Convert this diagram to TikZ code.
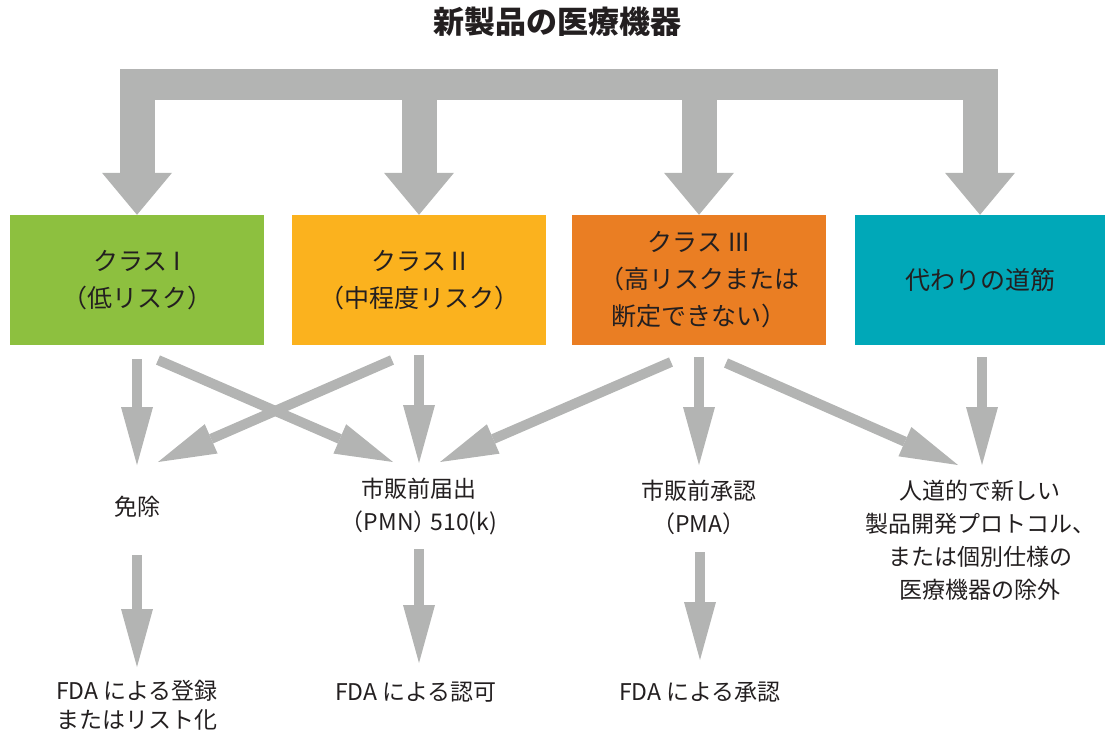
\documentclass[tikz,border=0pt]{standalone}
\usepackage{fontspec}
\setmainfont{Noto Sans CJK JP}
\usetikzlibrary{arrows.meta,calc}
\definecolor{arrowgray}{HTML}{B3B4B3}
\definecolor{cgreen}{HTML}{8DC03F}
\definecolor{corange}{HTML}{FBB21E}
\definecolor{cred}{HTML}{EA7E23}
\definecolor{cteal}{HTML}{00A8B8}
\definecolor{txt}{HTML}{231F20}
\begin{document}
\begin{tikzpicture}[x=1pt,y=-1pt,
  classbox/.style={minimum width=254pt, minimum height=130pt, inner sep=0pt, text=txt, align=center, font=\fontsize{25pt}{37pt}\selectfont},
  outtext/.style={text=txt, align=center, font=\fontsize{23pt}{33pt}\selectfont, inner sep=0pt},
  bigarrow/.style={draw=arrowgray, line width=35pt, -{Triangle[length=42pt,width=70pt,line width=0pt]}},
  thinarrow/.style={draw=arrowgray, line width=10pt, -{Triangle[length=58pt,width=32pt,line width=0pt]}}]
\useasboundingbox (0,0) rectangle (1105,732);

\node[text=txt, font=\fontsize{31pt}{36pt}\selectfont\bfseries, inner sep=0pt] (title) at (557,22) {新製品の医療機器};

\node[classbox, fill=cgreen] (c1) at (137,280) {クラス I\\（低リスク）};
\node[classbox, fill=corange] (c2) at (419,280) {クラス II\\（中程度リスク）};
\node[classbox, fill=cred] (c3) at (699,280) {クラス III\\（高リスクまたは\\断定できない）};
\node[classbox, fill=cteal, minimum width=250pt] (c4) at (980,280) {代わりの道筋};

% top bracket
\coordinate (barL) at (119.5,69);
\coordinate (barR) at (998,100);
\fill[arrowgray] (barL) rectangle (barR);
\coordinate (bartop) at (0,69);
\draw[bigarrow] (c1.north |- bartop) -- (c1.north);
\draw[bigarrow] (c2.north |- bartop) -- (c2.north);
\draw[bigarrow] (c3.north |- bartop) -- (c3.north);
\draw[bigarrow] (c4.north |- bartop) -- (c4.north);

% outcome texts
\node[outtext] (ex) at (137,507) {免除};
\node[outtext] (pmn) at (419,507) {市販前届出\\（PMN）\kern-6pt 510(k)};
\node[outtext] (pma) at (699,507) {市販前承認\\（PMA）};
\node[outtext] (hde) at (980,540) {人道的で新しい\\製品開発プロトコル、\\または個別仕様の\\医療機器の除外};

\node[outtext, font=\fontsize{23pt}{29pt}\selectfont] (reg) at (137,705) {FDA による登録\\またはリスト化};
\node[outtext] (clr) at (416,692) {FDA による認可};
\node[outtext] (apr) at (700,692) {FDA による承認};

% arrow end points
\coordinate (a1s) at (137,359); \coordinate (a1e) at (137,465);
\coordinate (a2s) at (419,355); \coordinate (a2e) at (419,463);
\coordinate (a3s) at (699,357); \coordinate (a3e) at (699,465);
\coordinate (a4s) at (982,357); \coordinate (a4e) at (982,465);
\coordinate (d1s) at (158,360); \coordinate (d1e) at (393,462);
\coordinate (d2s) at (392,360); \coordinate (d2e) at (158,462);
\coordinate (d3s) at (671,362); \coordinate (d3e) at (440,462);
\coordinate (d4s) at (726,363); \coordinate (d4e) at (958,465);
\coordinate (b1s) at (137,555); \coordinate (b1e) at (137,667);
\coordinate (b2s) at (419,549); \coordinate (b2e) at (419,663);
\coordinate (b3s) at (700,552); \coordinate (b3e) at (700,660);

\draw[thinarrow] (a1s) -- (a1e);
\draw[thinarrow] (a2s) -- (a2e);
\draw[thinarrow] (a3s) -- (a3e);
\draw[thinarrow] (a4s) -- (a4e);
\draw[thinarrow] (d1s) -- (d1e);
\draw[thinarrow] (d2s) -- (d2e);
\draw[thinarrow] (d3s) -- (d3e);
\draw[thinarrow] (d4s) -- (d4e);
\draw[thinarrow] (b1s) -- (b1e);
\draw[thinarrow] (b2s) -- (b2e);
\draw[thinarrow] (b3s) -- (b3e);
\end{tikzpicture}
\end{document}
